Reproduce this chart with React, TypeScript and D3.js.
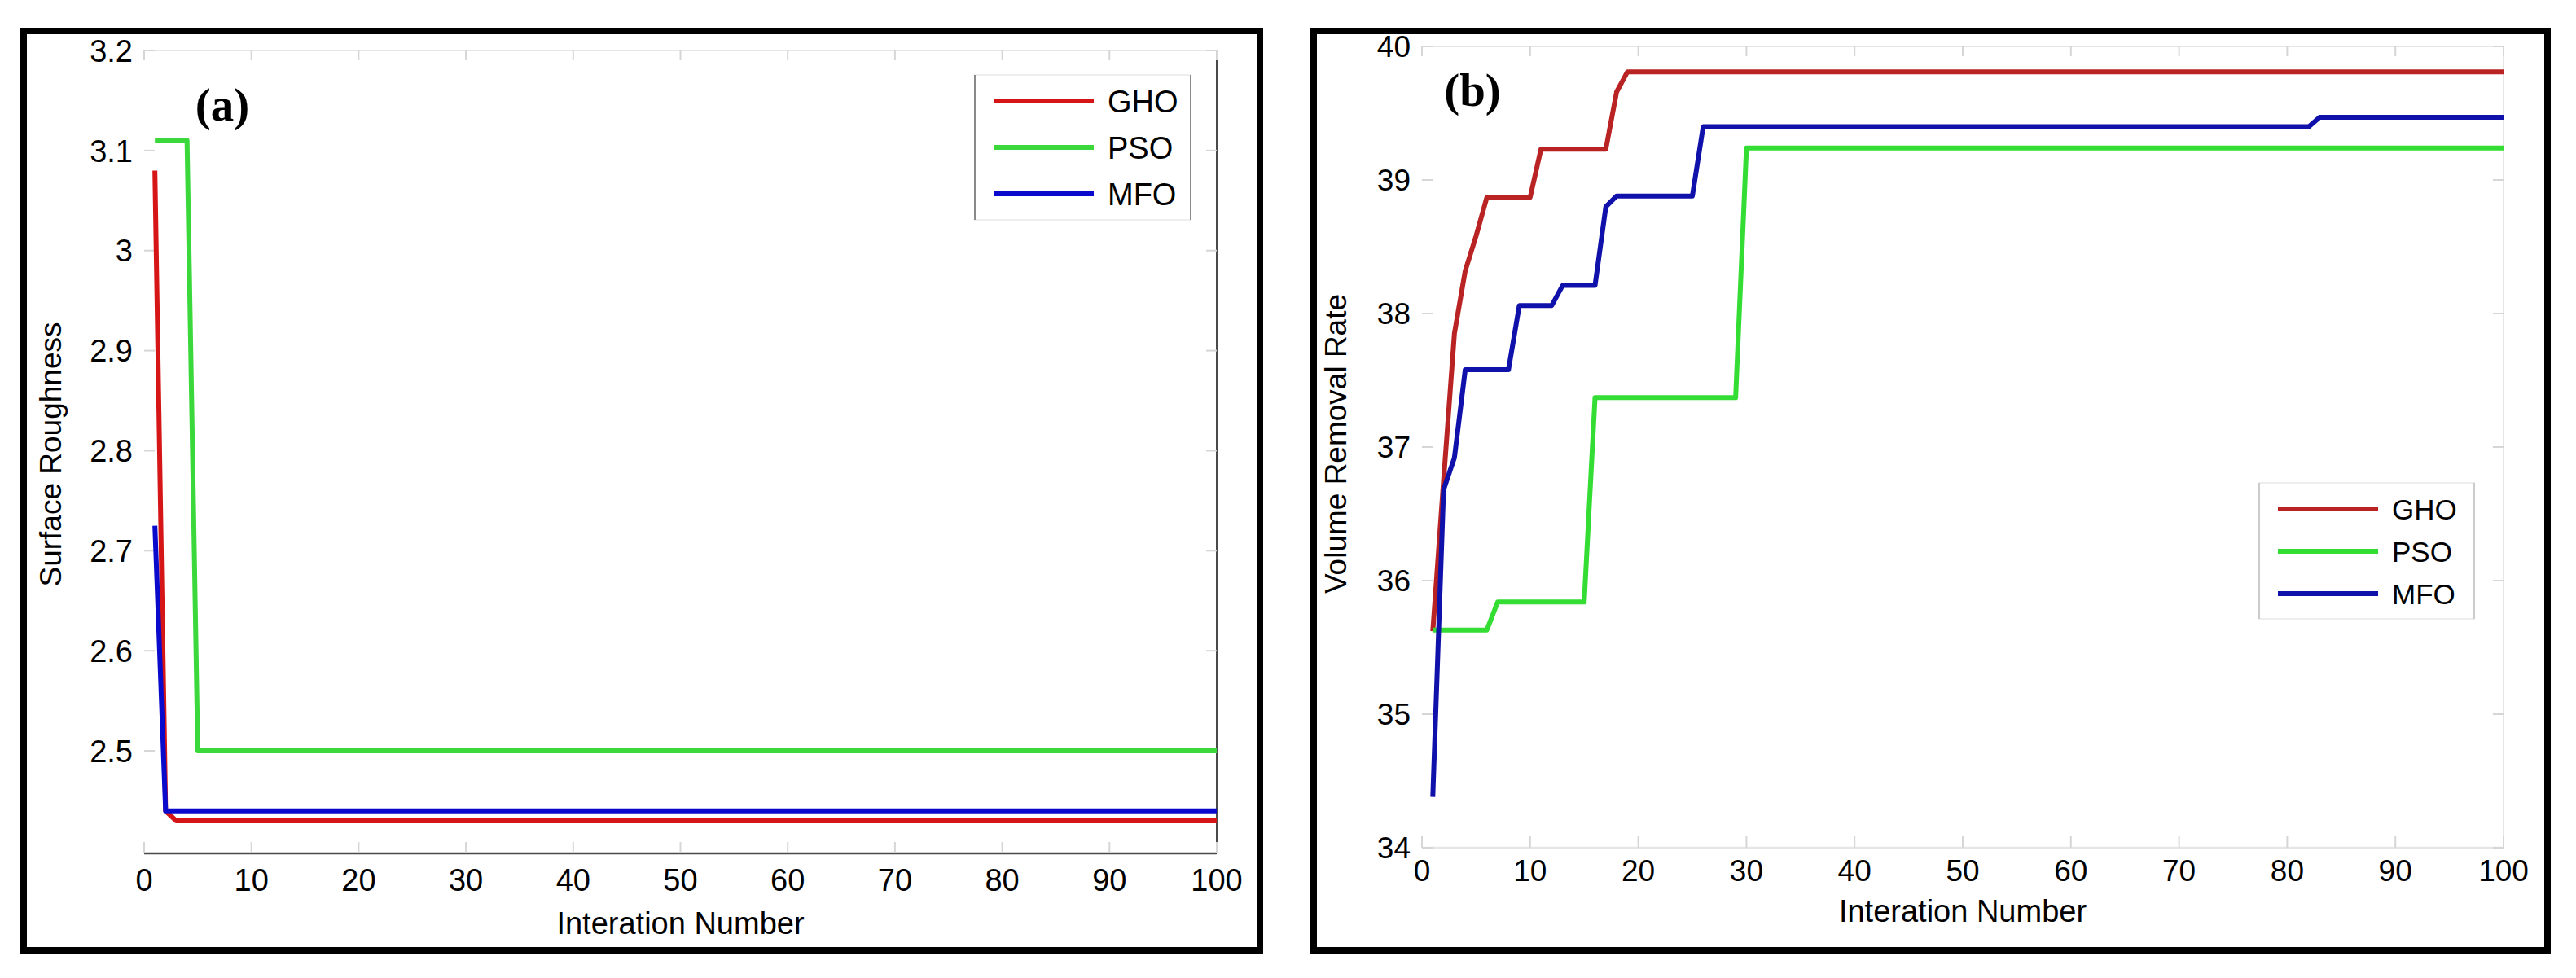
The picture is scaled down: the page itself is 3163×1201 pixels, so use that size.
import React from 'react';
import * as d3 from 'd3';

// shared axis ticks
const iterTicks = [0, 10, 20, 30, 40, 50, 60, 70, 80, 90, 100];
const srTicks = [2.5, 2.6, 2.7, 2.8, 2.9, 3, 3.1, 3.2];
const vrrTicks = [34, 35, 36, 37, 38, 39, 40];
const algos = ['GHO', 'PSO', 'MFO'];

// (a) surface roughness — vertices of each convergence curve (iteration, value)
const ghoA_it = [1, 2, 3, 100];
const ghoA_val = [3.08, 2.44, 2.43, 2.43];
const psoA_it = [1, 4, 5, 100];
const psoA_val = [3.11, 3.11, 2.5, 2.5];
const mfoA_it = [1, 2, 100];
const mfoA_val = [2.725, 2.44, 2.44];

// (b) volume removal rate
const ghoB_it = [1, 2, 3, 4, 5, 6, 10, 11, 17, 18, 19, 100];
const ghoB_val = [35.62, 36.75, 37.85, 38.32, 38.58, 38.87, 38.87, 39.23, 39.23, 39.66, 39.81, 39.81];
const psoB_it = [1, 6, 7, 15, 16, 29, 30, 100];
const psoB_val = [35.63, 35.63, 35.84, 35.84, 37.37, 37.37, 39.24, 39.24];
const mfoB_it = [1, 2, 3, 4, 8, 9, 12, 13, 16, 17, 18, 25, 26, 82, 83, 100];
const mfoB_val = [34.38, 36.68, 36.92, 37.58, 37.58, 38.06, 38.06, 38.21, 38.21, 38.8, 38.88, 38.88, 39.4, 39.4, 39.47, 39.47];

const FONT = '"Liberation Sans", Arial, sans-serif';
const zip = (xs: number[], ys: number[]) => xs.map((x, i) => [x, ys[i]] as [number, number]);

interface PanelCfg {
  frame: [number, number, number, number];
  x0: number; x1: number; yTop: number; yBot: number;
  yDomain: [number, number];
  yTicks: number[];
  fs: number;
  tag: string; tagX: number; tagY: number;
  yTitle: string; yTitleX: number; yTitleY: number;
  xTitleY: number; xLabY: number;
  series: { name: string; pts: [number, number][]; color: string }[];
  legend: { x: number; y: number; w: number; h: number; step: number; fs: number; side: string };
  axisColor: string;
}

const panels: PanelCfg[] = [
  {
    frame: [29, 38, 1518, 1129],
    x0: 177, x1: 1494, yTop: 62, yBot: 1048,
    yDomain: [2.3975, 3.2],
    yTicks: srTicks, fs: 38,
    tag: '(a)', tagX: 273, tagY: 129,
    yTitle: 'Surface Roughness', yTitleX: 62, yTitleY: 558,
    xTitleY: 1133, xLabY: 1080,
    series: [
      { name: algos[0], pts: zip(ghoA_it, ghoA_val), color: '#d61616' },
      { name: algos[1], pts: zip(psoA_it, psoA_val), color: '#3ad83a' },
      { name: algos[2], pts: zip(mfoA_it, mfoA_val), color: '#0a0acc' },
    ],
    legend: { x: 1197, y: 92, w: 265, h: 178, step: 57, fs: 38, side: '#8a8a8a' },
    axisColor: '#4a4a4a',
  },
  {
    frame: [1613, 38, 1515, 1129],
    x0: 1746, x1: 3074, yTop: 57, yBot: 1041,
    yDomain: [34, 40],
    yTicks: vrrTicks, fs: 37,
    tag: '(b)', tagX: 1808, tagY: 111,
    yTitle: 'Volume Removal Rate', yTitleX: 1640, yTitleY: 545,
    xTitleY: 1118, xLabY: 1069,
    series: [
      { name: algos[0], pts: zip(ghoB_it, ghoB_val), color: '#b92323' },
      { name: algos[1], pts: zip(psoB_it, psoB_val), color: '#33dd33' },
      { name: algos[2], pts: zip(mfoB_it, mfoB_val), color: '#1010aa' },
    ],
    legend: { x: 2774, y: 593, w: 264, h: 167, step: 52, fs: 35, side: '#cccccc' },
    axisColor: '#e6e6e6',
  },
];

function Panel({ p }: { p: PanelCfg }) {
  const x = d3.scaleLinear().domain([0, 100]).range([p.x0, p.x1]);
  const y = d3.scaleLinear().domain(p.yDomain).range([p.yBot, p.yTop]);
  const line = d3.line<[number, number]>().x(d => x(d[0])).y(d => y(d[1]));
  const [fx, fy, fw, fh] = p.frame;
  const lg = p.legend;
  return (
    <g>
      <rect x={fx} y={fy} width={fw} height={fh} fill="#fff" stroke="#000" strokeWidth={8} />
      {/* axes box */}
      <line x1={p.x0} x2={p.x1} y1={p.yTop} y2={p.yTop} stroke="#e6e6e6" strokeWidth={2} />
      <line x1={p.x0} x2={p.x1} y1={p.yBot} y2={p.yBot} stroke={p.axisColor} strokeWidth={2.5} />
      <line x1={p.x1} x2={p.x1} y1={p.yTop} y2={p.yBot} stroke={p.axisColor} strokeWidth={2} />
      {iterTicks.map(t => (
        <g key={'xt' + t}>
          <line x1={x(t)} x2={x(t)} y1={p.yBot} y2={p.yBot - 14} stroke="#d6d6d6" strokeWidth={2} />
          <line x1={x(t)} x2={x(t)} y1={p.yTop} y2={p.yTop + 12} stroke="#d6d6d6" strokeWidth={2} />
          <text x={x(t)} y={p.xLabY} dy="0.36em" textAnchor="middle" fontSize={p.fs} fontFamily={FONT}>{t}</text>
        </g>
      ))}
      {p.yTicks.map(t => (
        <g key={'yt' + t}>
          <line x1={p.x0} x2={p.x0 + 13} y1={y(t)} y2={y(t)} stroke="#d6d6d6" strokeWidth={2} />
          <line x1={p.x1} x2={p.x1 - 13} y1={y(t)} y2={y(t)} stroke="#d6d6d6" strokeWidth={2} />
          <text x={p.x0 - 14} y={y(t)} dy="0.36em" textAnchor="end" fontSize={p.fs} fontFamily={FONT}>{String(t)}</text>
        </g>
      ))}
      <text x={(p.x0 + p.x1) / 2} y={p.xTitleY} dy="0.36em" textAnchor="middle" fontSize={38} fontFamily={FONT}>Interation Number</text>
      <text transform={`translate(${p.yTitleX},${p.yTitleY}) rotate(-90)`} dy="0.36em" textAnchor="middle" fontSize={37} fontFamily={FONT}>{p.yTitle}</text>
      {p.series.map(s => (
        <path key={s.name} d={line(s.pts) || ''} fill="none" stroke={s.color} strokeWidth={6} strokeLinejoin="round" />
      ))}
      <text x={p.tagX} y={p.tagY} dy="0.33em" textAnchor="middle" fontSize={57} fontWeight="bold" fontFamily='"Liberation Serif", "Times New Roman", serif'>{p.tag}</text>
      {/* legend */}
      <rect x={lg.x} y={lg.y} width={lg.w} height={lg.h} fill="#fff" stroke="#eeeeee" strokeWidth={2} />
      <line x1={lg.x} x2={lg.x} y1={lg.y} y2={lg.y + lg.h} stroke={lg.side} strokeWidth={2} />
      <line x1={lg.x + lg.w} x2={lg.x + lg.w} y1={lg.y} y2={lg.y + lg.h} stroke={lg.side} strokeWidth={2} />
      {p.series.map((s, i) => {
        const ly = lg.y + 32 + i * lg.step;
        return (
          <g key={'lg' + s.name}>
            <line x1={lg.x + 23} x2={lg.x + 146} y1={ly} y2={ly} stroke={s.color} strokeWidth={6} />
            <text x={lg.x + 163} y={ly} dy="0.36em" fontSize={lg.fs} fontFamily={FONT}>{s.name}</text>
          </g>
        );
      })}
    </g>
  );
}

export default function App() {
  return (
    <div style={{ position: 'absolute', left: 0, top: 0 }}>
      <svg width={3163} height={1201} viewBox="0 0 3163 1201" style={{ display: 'block', background: '#fff' }}>
        {panels.map(p => <Panel key={p.tag} p={p} />)}
      </svg>
    </div>
  );
}
